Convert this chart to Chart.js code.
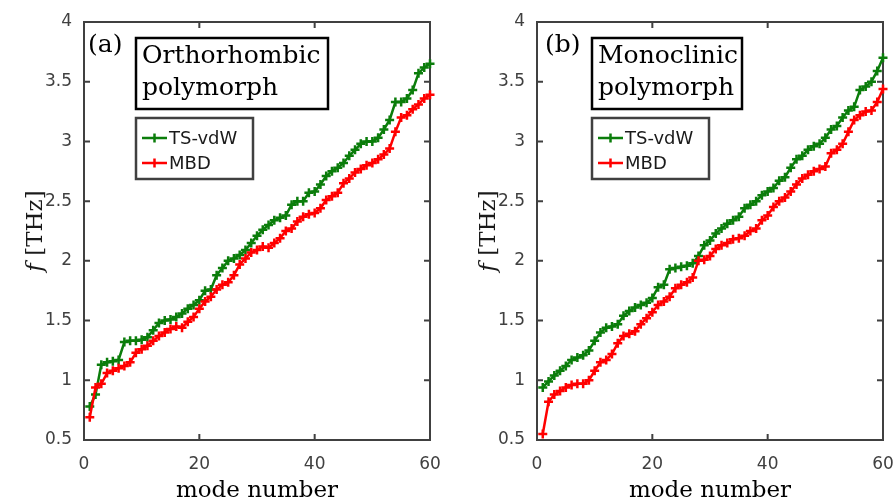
<!DOCTYPE html>
<html>
<head>
<meta charset="utf-8">
<script src="https://cdn.jsdelivr.net/npm/chart.js@4.4.0/dist/chart.umd.min.js"></script>
<style>
html, body { margin: 0; padding: 0; background: #fff; }
#wrap { position: relative; width: 895px; height: 503px; }
canvas { position: absolute; top: 0; }
</style>
</head>
<body>
<div id="wrap">
  <canvas id="chartA" width="447" height="503" style="left:0"></canvas>
  <canvas id="chartB" width="448" height="503" style="left:447px"></canvas>
</div>
<script>
// mode numbers 1..60
const modeNumbers = [
  1, 2, 3, 4, 5, 6, 7, 8, 9, 10, 11, 12, 13, 14, 15, 16, 17, 18, 19, 20,
  21, 22, 23, 24, 25, 26, 27, 28, 29, 30, 31, 32, 33, 34, 35, 36, 37, 38, 39, 40,
  41, 42, 43, 44, 45, 46, 47, 48, 49, 50, 51, 52, 53, 54, 55, 56, 57, 58, 59, 60
];

// (a) orthorhombic polymorph, frequencies in THz
const orthoTS = [
  0.78, 0.88, 1.13, 1.15, 1.16, 1.17, 1.32, 1.33, 1.33, 1.34, 1.36, 1.42, 1.48, 1.50, 1.51, 1.53, 1.56, 1.60, 1.63, 1.67,
  1.75, 1.76, 1.88, 1.94, 2.00, 2.02, 2.05, 2.09, 2.15, 2.21, 2.26, 2.30, 2.34, 2.36, 2.38, 2.47, 2.50, 2.50, 2.57, 2.58,
  2.64, 2.71, 2.75, 2.78, 2.82, 2.88, 2.93, 2.98, 3.00, 3.00, 3.03, 3.10, 3.18, 3.33, 3.33, 3.36, 3.43, 3.57, 3.62, 3.65
];
const orthoMBD = [
  0.69, 0.94, 0.97, 1.06, 1.08, 1.10, 1.12, 1.15, 1.23, 1.26, 1.29, 1.33, 1.37, 1.40, 1.43, 1.45, 1.44, 1.49, 1.53, 1.60,
  1.66, 1.70, 1.76, 1.80, 1.82, 1.88, 1.97, 2.02, 2.07, 2.09, 2.12, 2.11, 2.15, 2.19, 2.25, 2.27, 2.33, 2.37, 2.39, 2.40,
  2.44, 2.51, 2.54, 2.57, 2.65, 2.69, 2.74, 2.77, 2.80, 2.82, 2.85, 2.89, 2.94, 3.08, 3.20, 3.22, 3.27, 3.31, 3.36, 3.39
];

// (b) monoclinic polymorph
const monoTS = [
  0.94, 0.99, 1.04, 1.08, 1.12, 1.17, 1.19, 1.21, 1.25, 1.33, 1.40, 1.44, 1.45, 1.47, 1.54, 1.58, 1.61, 1.63, 1.65, 1.69,
  1.78, 1.80, 1.93, 1.94, 1.95, 1.96, 1.98, 2.04, 2.13, 2.17, 2.23, 2.27, 2.31, 2.34, 2.37, 2.44, 2.47, 2.50, 2.55, 2.58,
  2.61, 2.67, 2.70, 2.78, 2.85, 2.88, 2.93, 2.96, 2.98, 3.03, 3.10, 3.13, 3.20, 3.26, 3.29, 3.43, 3.46, 3.50, 3.59, 3.70
];
const monoMBD = [
  0.55, 0.82, 0.88, 0.91, 0.94, 0.96, 0.97, 0.97, 1.00, 1.08, 1.15, 1.17, 1.22, 1.31, 1.37, 1.39, 1.41, 1.47, 1.52, 1.57,
  1.63, 1.66, 1.70, 1.77, 1.80, 1.82, 1.86, 2.00, 2.01, 2.04, 2.10, 2.13, 2.15, 2.18, 2.19, 2.21, 2.25, 2.27, 2.34, 2.38,
  2.45, 2.50, 2.53, 2.58, 2.64, 2.69, 2.72, 2.75, 2.77, 2.79, 2.90, 2.93, 2.98, 3.08, 3.18, 3.22, 3.25, 3.26, 3.33, 3.44
];

const xTicks = [0, 20, 40, 60];
const yTicks = [0.5, 1, 1.5, 2, 2.5, 3, 3.5, 4];
const seriesNames = ['TS-vdW', 'MBD'];
const seriesColors = ['#0b7d0b', '#ff0000'];

const AXIS_COLOR = '#404040';
const SERIF = '"DejaVu Serif", "Liberation Serif", serif';
const SANS = '"DejaVu Sans", "Liberation Sans", sans-serif';

// box round the plot with inward ticks on all four sides
const framePlugin = {
  id: 'frame',
  beforeDatasetsDraw(chart) {
    const { ctx, chartArea: a, scales } = chart;
    ctx.save();
    ctx.strokeStyle = AXIS_COLOR;
    ctx.lineWidth = 2;
    ctx.beginPath();
    xTicks.forEach(v => {
      const px = scales.x.getPixelForValue(v);
      ctx.moveTo(px, a.bottom); ctx.lineTo(px, a.bottom - 6);
      ctx.moveTo(px, a.top); ctx.lineTo(px, a.top + 6);
    });
    yTicks.forEach(v => {
      const py = scales.y.getPixelForValue(v);
      ctx.moveTo(a.left, py); ctx.lineTo(a.left + 6, py);
      ctx.moveTo(a.right, py); ctx.lineTo(a.right - 6, py);
    });
    ctx.stroke();
    ctx.strokeRect(a.left, a.top, a.right - a.left, a.bottom - a.top);
    ctx.restore();
  }
};

// y title, panel tag, text box and legend box
const notePlugin = {
  id: 'panelNote',
  afterDraw(chart, args, opts) {
    const { ctx, chartArea: a } = chart;
    ctx.save();

    // y axis title: italic f then [THz]
    ctx.translate(a.left - 48, (a.top + a.bottom) / 2);
    ctx.rotate(-Math.PI / 2);
    ctx.fillStyle = '#1a1a1a';
    ctx.textBaseline = 'middle';
    const fFont = 'italic 23px ' + SERIF;
    const rFont = '23px ' + SERIF;
    ctx.font = fFont;
    const wf = ctx.measureText('f').width;
    ctx.font = rFont;
    const wr = ctx.measureText(' [THz]').width;
    const start = -(wf + wr) / 2;
    ctx.textAlign = 'left';
    ctx.font = fFont;
    ctx.fillText('f', start, 0);
    ctx.font = rFont;
    ctx.fillText(' [THz]', start + wf, 0);
    ctx.setTransform(chart.currentDevicePixelRatio, 0, 0, chart.currentDevicePixelRatio, 0, 0);

    // panel tag
    ctx.fillStyle = '#000';
    ctx.textAlign = 'left';
    ctx.textBaseline = 'alphabetic';
    ctx.font = '25px ' + SERIF;
    ctx.fillText(opts.tag, a.left + opts.tagX, 52);

    // text box
    const bx = a.left + opts.boxX;
    ctx.fillStyle = '#fff';
    ctx.fillRect(bx, 38, opts.boxW, 71);
    ctx.strokeStyle = '#000';
    ctx.lineWidth = 2.5;
    ctx.strokeRect(bx, 38, opts.boxW, 71);
    ctx.fillStyle = '#000';
    ctx.font = '25px ' + SERIF;
    ctx.fillText(opts.lines[0], bx + 6, 63);
    ctx.fillText(opts.lines[1], bx + 6, 95);

    // legend box
    const lx = a.left + opts.boxX;
    ctx.fillStyle = '#fff';
    ctx.fillRect(lx, 118, 117, 61);
    ctx.strokeStyle = AXIS_COLOR;
    ctx.lineWidth = 2.5;
    ctx.strokeRect(lx, 118, 117, 61);
    ctx.font = '18px ' + SANS;
    ctx.textBaseline = 'middle';
    chart.data.datasets.forEach((ds, i) => {
      const y = 138 + i * 25;
      ctx.strokeStyle = ds.borderColor;
      ctx.lineWidth = 2.5;
      ctx.beginPath();
      ctx.moveTo(lx + 6, y); ctx.lineTo(lx + 31, y);
      ctx.moveTo(lx + 18.5, y - 4.5); ctx.lineTo(lx + 18.5, y + 4.5);
      ctx.stroke();
      ctx.fillStyle = '#1a1a1a';
      ctx.fillText(ds.label, lx + 33, y + 1);
    });
    ctx.restore();
  }
};

function makeSeries(label, values, color, order) {
  return {
    label: label,
    data: values.map((v, i) => ({ x: modeNumbers[i], y: v })),
    borderColor: color,
    backgroundColor: color,
    borderWidth: 2.5,
    pointStyle: 'cross',
    pointRadius: 4.5,
    pointBorderWidth: 2.5,
    pointHoverRadius: 4.5,
    tension: 0,
    clip: false,
    order: order
  };
}

function buildChart(canvasId, ts, mbd, panel) {
  const ctx = document.getElementById(canvasId).getContext('2d');
  return new Chart(ctx, {
    type: 'line',
    data: {
      datasets: [
        makeSeries(seriesNames[0], ts, seriesColors[0], 1),
        makeSeries(seriesNames[1], mbd, seriesColors[1], 0)
      ]
    },
    options: {
      responsive: false,
      animation: false,
      layout: { padding: panel.padding },
      plugins: {
        legend: { display: false },
        tooltip: { enabled: false },
        panelNote: panel
      },
      scales: {
        x: {
          type: 'linear',
          min: 0,
          max: 60,
          afterBuildTicks: s => { s.ticks = xTicks.map(v => ({ value: v })); },
          afterFit: s => { s.height = 63; s.paddingLeft = 0; s.paddingRight = 0; },
          grid: { display: false, drawTicks: false },
          border: { display: false },
          ticks: { padding: 14, color: AXIS_COLOR, font: { family: SANS, size: 17 }, maxRotation: 0, callback: v => String(v) },
          title: {
            display: true,
            text: 'mode number',
            color: '#000',
            font: { family: SERIF, size: 23, lineHeight: 1 },
            padding: { top: 0, bottom: 0 }
          }
        },
        y: {
          type: 'linear',
          min: 0.5,
          max: 4,
          afterBuildTicks: s => { s.ticks = yTicks.map(v => ({ value: v })); },
          afterFit: s => { s.width = panel.yWidth; s.paddingTop = 0; s.paddingBottom = 0; },
          grid: { display: false, drawTicks: false },
          border: { display: false },
          ticks: { padding: 12, color: AXIS_COLOR, font: { family: SANS, size: 17 }, callback: v => String(v) }
        }
      }
    },
    plugins: [framePlugin, notePlugin]
  });
}

buildChart('chartA', orthoTS, orthoMBD, {
  tag: '(a)', tagX: 4, boxX: 52, boxW: 192,
  lines: ['Orthorhombic', 'polymorph'],
  yWidth: 84,
  padding: { left: 0, top: 22, right: 17, bottom: 0 }
});
buildChart('chartB', monoTS, monoMBD, {
  tag: '(b)', tagX: 8, boxX: 55, boxW: 150,
  lines: ['Monoclinic', 'polymorph'],
  yWidth: 90,
  padding: { left: 0, top: 22, right: 12, bottom: 0 }
});
</script>
</body>
</html>
